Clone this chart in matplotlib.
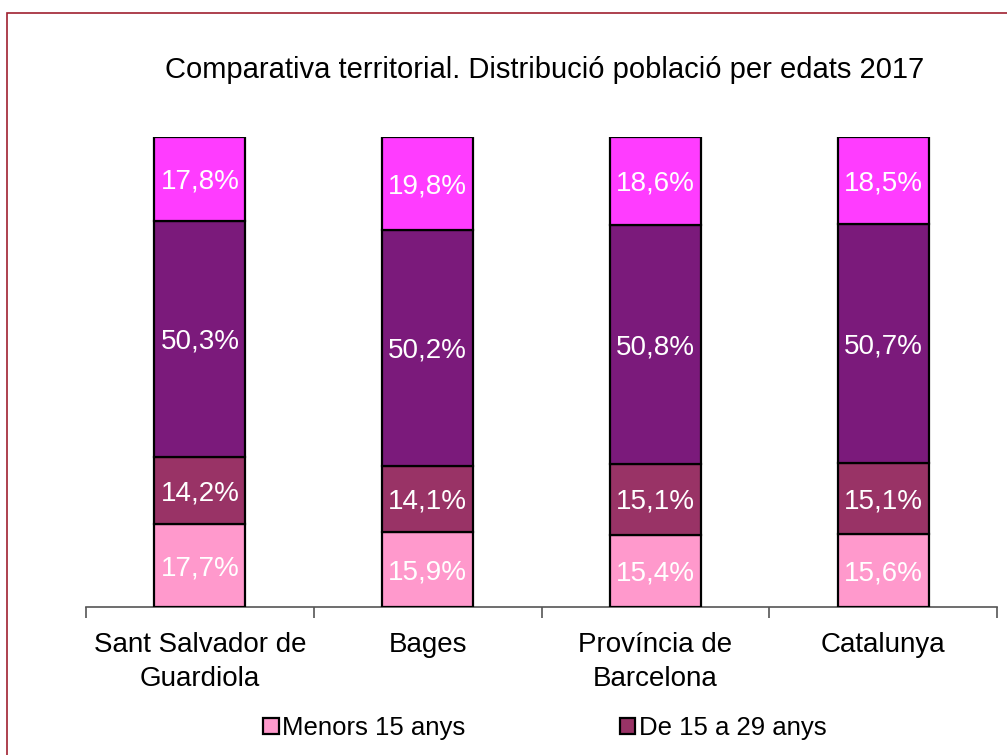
import numpy as np
import matplotlib
matplotlib.use("Agg")
import matplotlib.pyplot as plt
from matplotlib.patches import Rectangle

plt.rcParams['font.family'] = ['Liberation Sans', 'DejaVu Sans']

categories = ["Sant Salvador de\nGuardiola", "Bages", "Província de\nBarcelona", "Catalunya"]
series_names = ["Menors 15 anys", "De 15 a 29 anys", "De 30 a 64 anys", "65 anys i més"]
menors15 = [17.7, 15.9, 15.4, 15.6]
de15a29 = [14.2, 14.1, 15.1, 15.1]
de30a64 = [50.3, 50.2, 50.8, 50.7]
mes65 = [17.8, 19.8, 18.6, 18.5]
colors = ["#FF99CC", "#993366", "#7B1A7B", "#FF3CFF"]

W, H = 1007, 755
fig = plt.figure(figsize=(W / 100, H / 100), dpi=100)
ax = fig.add_axes([86 / W, (H - 607) / H, (997 - 86) / W, (607 - 137) / H])

x = np.arange(len(categories))
bottom = np.zeros(len(categories))
bars = []
for vals, c in zip([menors15, de15a29, de30a64, mes65], colors):
    b = ax.bar(x, vals, width=0.4, bottom=bottom, color=c, edgecolor='black', linewidth=1.6, zorder=3)
    bars.append(b)
    for xi, v, bt in zip(x, vals, bottom):
        ax.text(xi, bt + v / 2 - 0.6, f"{v:.1f}%".replace('.', ','), ha='center', va='center',
                color='white', fontsize=20, zorder=4)
    bottom += np.array(vals)

ax.set_xlim(-0.5, 3.5)
ax.set_ylim(0, 100)
ax.set_yticks([])
for s in ['top', 'right', 'left']:
    ax.spines[s].set_visible(False)
ax.spines['bottom'].set_color('#555555')
ax.spines['bottom'].set_linewidth(1.2)
ax.set_xticks(np.arange(-0.5, 4.0, 1.0))
ax.set_xticklabels([])
ax.tick_params(axis='x', direction='out', length=8, color='#555555', width=1.2)
ax.set_xticks(x, minor=True)
ax.set_xticklabels(categories, minor=True, fontsize=20, linespacing=1.4)
ax.tick_params(axis='x', which='minor', length=0, pad=18)

fig.text(545 / W, 1 - 70 / H, "Comparativa territorial. Distribució població per edats 2017",
         ha='center', va='center', fontsize=21)

fig.legend(handles=[bars[0], bars[1]], labels=series_names[:2], ncol=2, frameon=False,
           loc='center', bbox_to_anchor=(545 / W, 1 - 728 / H), fontsize=18.5,
           handlelength=0.6, handleheight=0.6, handletextpad=0.15, columnspacing=6.0)

fig.patches.append(Rectangle((7 / W, -0.1), 1.2, 1 - 13 / H + 0.1, transform=fig.transFigure,
                             fill=False, edgecolor='#A02030', linewidth=1.2))

fig.savefig("out.png", dpi=100)
